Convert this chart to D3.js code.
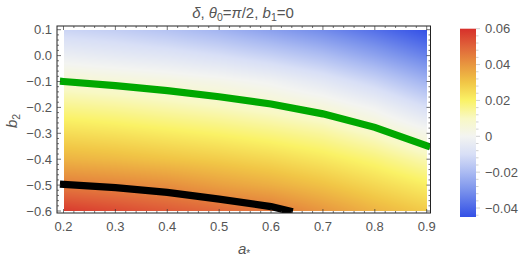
<!DOCTYPE html>
<html><head><meta charset="utf-8">
<script src="https://cdn.jsdelivr.net/npm/d3@7"></script>
<style>body{margin:0;background:#fff}svg{display:block}text{font-family:"Liberation Sans",Arial,sans-serif}</style>
</head><body>
<svg id="c" width="529" height="260"></svg>
<script>
// grid of delta values: rows = b2 values, columns = a values
const aVals = [0.2,0.3,0.4,0.5,0.6,0.7,0.8,0.9];
const b2Vals = [0.1,0.0,-0.1,-0.2,-0.3,-0.4,-0.5,-0.6];
const deltaGrid = [
  [-0.013,-0.015,-0.018,-0.022,-0.027,-0.032,-0.038,-0.045],
  [-0.003,-0.005,-0.007,-0.010,-0.014,-0.019,-0.026,-0.034],
  [ 0.007, 0.0055,0.004, 0.002,-0.001,-0.006,-0.013,-0.022],
  [ 0.016, 0.0145,0.0125,0.0105,0.008,0.005,-0.001,-0.010],
  [ 0.025, 0.0235,0.0215,0.0195,0.017,0.014, 0.009, 0.002],
  [ 0.034, 0.0325,0.0305,0.0285,0.026,0.0225,0.018,0.012],
  [ 0.045, 0.0435,0.0415,0.038, 0.035,0.031, 0.026, 0.021],
  [ 0.058, 0.055, 0.052, 0.049, 0.046,0.040, 0.034, 0.029]
];
const greenA = [0.2,0.3,0.4,0.5,0.6,0.7,0.8,0.9];
const greenB = [-0.100,-0.116,-0.1355,-0.159,-0.187,-0.225,-0.277,-0.348];
const blackA = [0.2,0.3,0.4,0.5,0.6,0.635];
const blackB = [-0.497,-0.510,-0.528,-0.554,-0.583,-0.600];
const xTicks = [0.2,0.3,0.4,0.5,0.6,0.7,0.8,0.9];
const yTicks = [0.1,0.0,-0.1,-0.2,-0.3,-0.4,-0.5,-0.6];
const cbTicks = [0.06,0.04,0.02,0,-0.02,-0.04];
const cbLabels = ["0.06","0.04","0.02","0","\u22120.02","\u22120.04"];
const colorStops = [-0.045,-0.04,-0.03,-0.02,-0.01,0,0.01,0.02,0.03,0.04,0.05,0.06];
const colorVals = ["#3450e6","#4a66e8","#7b93ec","#abbbf2","#d8dff6","#f3f4f1","#f8f8c4","#faf266","#f1c646","#e8963f","#e0643a","#d7302b"];

const svg = d3.select("#c");
const x = d3.scaleLinear().domain([0.2,0.9]).range([63.5,426.7]);
const y = d3.scaleLinear().domain([-0.6,0.1]).range([211,29.7]);
const color = d3.scaleLinear().domain(colorStops).range(colorVals).clamp(true);

// heatmap via canvas (bilinear between grid values)
const x0=Math.round(x(0.2)), x1=Math.round(x(0.9)), y0=Math.round(y(0.1)), y1=Math.round(y(-0.6));
const W=x1-x0, H=y1-y0;
const cv=document.createElement("canvas"); cv.width=W; cv.height=H;
const ctx=cv.getContext("2d"); const img=ctx.createImageData(W,H);
const ia=d3.scaleLinear().domain(aVals).range(d3.range(aVals.length));
const ib=d3.scaleLinear().domain(b2Vals).range(d3.range(b2Vals.length));
for(let j=0;j<H;j++){
  const bv=y.invert(y0+j+0.5); let fb=Math.max(0,Math.min(b2Vals.length-1.0001,ib(bv)));
  const r=Math.floor(fb), tb=fb-r;
  for(let i=0;i<W;i++){
    const av=x.invert(x0+i+0.5); let fa=Math.max(0,Math.min(aVals.length-1.0001,ia(av)));
    const c=Math.floor(fa), ta=fa-c;
    const v=(1-tb)*((1-ta)*deltaGrid[r][c]+ta*deltaGrid[r][c+1])+tb*((1-ta)*deltaGrid[r+1][c]+ta*deltaGrid[r+1][c+1]);
    const col=d3.rgb(color(v)); const k=4*(j*W+i);
    img.data[k]=col.r; img.data[k+1]=col.g; img.data[k+2]=col.b; img.data[k+3]=255;
  }
}
ctx.putImageData(img,0,0);
svg.append("image").attr("x",x0).attr("y",y0).attr("width",W).attr("height",H).attr("href",cv.toDataURL());

// frame
const fx0=57, fx1=430.5, fy0=26, fy1=213;
svg.append("defs").append("clipPath").attr("id","clp").append("rect").attr("x",fx0).attr("y",fy0).attr("width",fx1-fx0).attr("height",fy1-fy0);

// contour lines
const line=d3.line().x(d=>x(d[0])).y(d=>y(d[1]));
const g=svg.append("g").attr("clip-path","url(#clp)");
g.append("path").attr("d",line(greenA.map((a,i)=>[a,greenB[i]]))).attr("fill","none").attr("stroke","#00a800").attr("stroke-width",7.2).attr("stroke-linecap","square");
g.append("path").attr("d",line(blackA.map((a,i)=>[a,blackB[i]]))).attr("fill","none").attr("stroke","#000").attr("stroke-width",7.2).attr("stroke-linecap","square");

svg.append("rect").attr("x",fx0).attr("y",fy0).attr("width",fx1-fx0).attr("height",fy1-fy0).attr("fill","none").attr("stroke","#222").attr("stroke-width",1);

// ticks
const tickG=svg.append("g").attr("stroke","#333").attr("stroke-width",0.7);
const xMinor=d3.range(0.2,0.9001,0.02), yMinor=d3.range(-0.6,0.1001,0.02);
xMinor.forEach(v=>{const isMaj=Math.abs(v*10-Math.round(v*10))<1e-6; const L=isMaj?4:2; const px=x(v);
  tickG.append("line").attr("x1",px).attr("x2",px).attr("y1",fy1).attr("y2",fy1-L);
  tickG.append("line").attr("x1",px).attr("x2",px).attr("y1",fy0).attr("y2",fy0+L);});
yMinor.forEach(v=>{const isMaj=Math.abs(v*10-Math.round(v*10))<1e-6; const L=isMaj?4:2; const py=y(v);
  tickG.append("line").attr("x1",fx0).attr("x2",fx0+L).attr("y1",py).attr("y2",py);
  tickG.append("line").attr("x1",fx1).attr("x2",fx1-L).attr("y1",py).attr("y2",py);});

const fmt=v=>{const s=d3.format(".1f")(v); return s.replace("-","\u2212");};
svg.append("g").selectAll("text").data(xTicks).join("text").attr("x",d=>x(d)).attr("y",230.5).attr("text-anchor","middle").attr("font-size",13).attr("fill","#555").text(d=>fmt(d));
svg.append("g").selectAll("text").data(yTicks).join("text").attr("x",52).attr("y",d=>y(d)+4.6).attr("text-anchor","end").attr("font-size",13).attr("fill","#555").text(d=>fmt(Math.abs(d)<1e-9?0:d));

// axis labels
const xl=svg.append("text").attr("x",244).attr("y",254).attr("text-anchor","middle").attr("font-size",15).attr("fill","#555");
xl.append("tspan").attr("font-style","italic").text("a");
xl.append("tspan").attr("font-size",10).attr("dy",3).text("*");
const yl=svg.append("text").attr("transform","translate(17,121) rotate(-90)").attr("text-anchor","middle").attr("font-size",15).attr("fill","#555");
yl.append("tspan").attr("font-style","italic").text("b");
yl.append("tspan").attr("font-size",10.5).attr("dy",3).text("2");

// title
const t=svg.append("text").attr("x",243).attr("y",18).attr("text-anchor","middle").attr("font-size",15).attr("fill","#555");
t.append("tspan").attr("font-style","italic").text("\u03b4");
t.append("tspan").text(", ");
t.append("tspan").attr("font-style","italic").text("\u03b8");
t.append("tspan").attr("font-size",10.5).attr("dy",3).text("0");
t.append("tspan").attr("dy",-3).text("=");
t.append("tspan").attr("font-style","italic").text("\u03c0");
t.append("tspan").text("/2, ");
t.append("tspan").attr("font-style","italic").text("b");
t.append("tspan").attr("font-size",10.5).attr("dy",3).text("1");
t.append("tspan").attr("dy",-3).text("=0");

// colorbar
const cy=d3.scaleLinear().domain([-0.045,0.06]).range([217,28.7]);
const cbx=460, cbw=16;
const grad=svg.select("defs").append("linearGradient").attr("id","cbg").attr("x1",0).attr("y1",1).attr("x2",0).attr("y2",0);
colorStops.forEach((s,i)=>grad.append("stop").attr("offset",(s+0.045)/0.105).attr("stop-color",colorVals[i]));
svg.append("rect").attr("x",cbx).attr("y",cy(0.06)).attr("width",cbw).attr("height",cy(-0.045)-cy(0.06)).attr("fill","url(#cbg)");
const cbMinor=d3.range(-0.044,0.0601,0.004);
const cbt=svg.append("g").attr("stroke","#bbb").attr("stroke-width",0.7);
cbMinor.forEach(v=>{const isMaj=Math.abs(v*50-Math.round(v*50))<1e-6; cbt.append("line").attr("x1",cbx+cbw).attr("x2",cbx+cbw+(isMaj?4:2.5)).attr("y1",cy(v)).attr("y2",cy(v));});
svg.append("g").selectAll("text").data(cbTicks).join("text").attr("x",485).attr("y",d=>cy(d)+4.6).attr("font-size",13).attr("fill","#555").text((d,i)=>cbLabels[i]);
</script>
</body></html>
